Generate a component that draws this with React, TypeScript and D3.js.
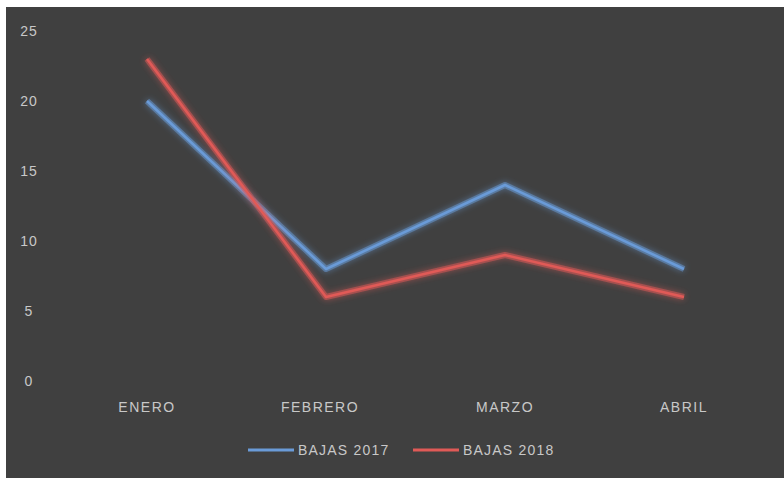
import React from "react";
import * as d3 from "d3";

const categories = ["ENERO", "FEBRERO", "MARZO", "ABRIL"];
const bajas2017 = [20, 8, 14, 8];
const bajas2018 = [23, 6, 9, 6];
const yTicks = [0, 5, 10, 15, 20, 25];
const seriesNames = ["BAJAS 2017", "BAJAS 2018"];
const seriesColors = ["#6a9bd8", "#e05a57"];

export default function App() {
  const W = 784, H = 478;
  const x = d3.scalePoint<string>().domain(categories).range([147, 684]);
  const y = d3.scaleLinear().domain([0, 25]).range([381, 31]);
  const line = d3.line<number>().x((_, i) => x(categories[i])!).y((d) => y(d));
  const series = [bajas2017, bajas2018];
  const font = "'Liberation Sans', Arial, sans-serif";
  const legendX = [248, 413];
  return (
    <svg width={W} height={H} style={{ position: "absolute", left: 0, top: 0, display: "block" }}>
      <defs>
        <filter id="glow" x="-20%" y="-20%" width="140%" height="140%">
          <feGaussianBlur in="SourceGraphic" stdDeviation="3" result="b" />
          <feMerge>
            <feMergeNode in="b" />
            <feMergeNode in="SourceGraphic" />
          </feMerge>
        </filter>
      </defs>
      <rect x={0} y={0} width={W} height={H} fill="#ffffff" />
      <rect x={6} y={7} width={W - 6} height={H - 7} fill="#404040" />
      {yTicks.map((t) => (
        <text key={t} x={29} y={y(t)} dy="0.35em" fill="#c8c8c8" fontSize={14} letterSpacing={1} fontFamily={font} textAnchor="middle">
          {t}
        </text>
      ))}
      {categories.map((c) => (
        <text key={c} x={x(c)! + (c === "FEBRERO" ? -6 : 0)} y={407} dy="0.35em" fill="#c8c8c8" fontSize={14} letterSpacing={1.5} fontFamily={font} textAnchor="middle">
          {c}
        </text>
      ))}
      {series.map((s, i) => (
        <g key={i}>
          <path d={line(s)!} fill="none" stroke={seriesColors[i]} strokeOpacity={0.5} strokeWidth={6} filter="url(#glow)" strokeLinejoin="round" />
          <path d={line(s)!} fill="none" stroke={seriesColors[i]} strokeWidth={2.5} strokeLinejoin="round" />
        </g>
      ))}
      {seriesNames.map((n, i) => (
        <g key={n}>
          <line x1={legendX[i]} x2={legendX[i] + 46} y1={450} y2={450} stroke={seriesColors[i]} strokeWidth={3} />
          <text x={legendX[i] + 50} y={450} dy="0.35em" fill="#c8c8c8" fontSize={14} letterSpacing={1.2} fontFamily={font}>
            {n}
          </text>
        </g>
      ))}
    </svg>
  );
}
